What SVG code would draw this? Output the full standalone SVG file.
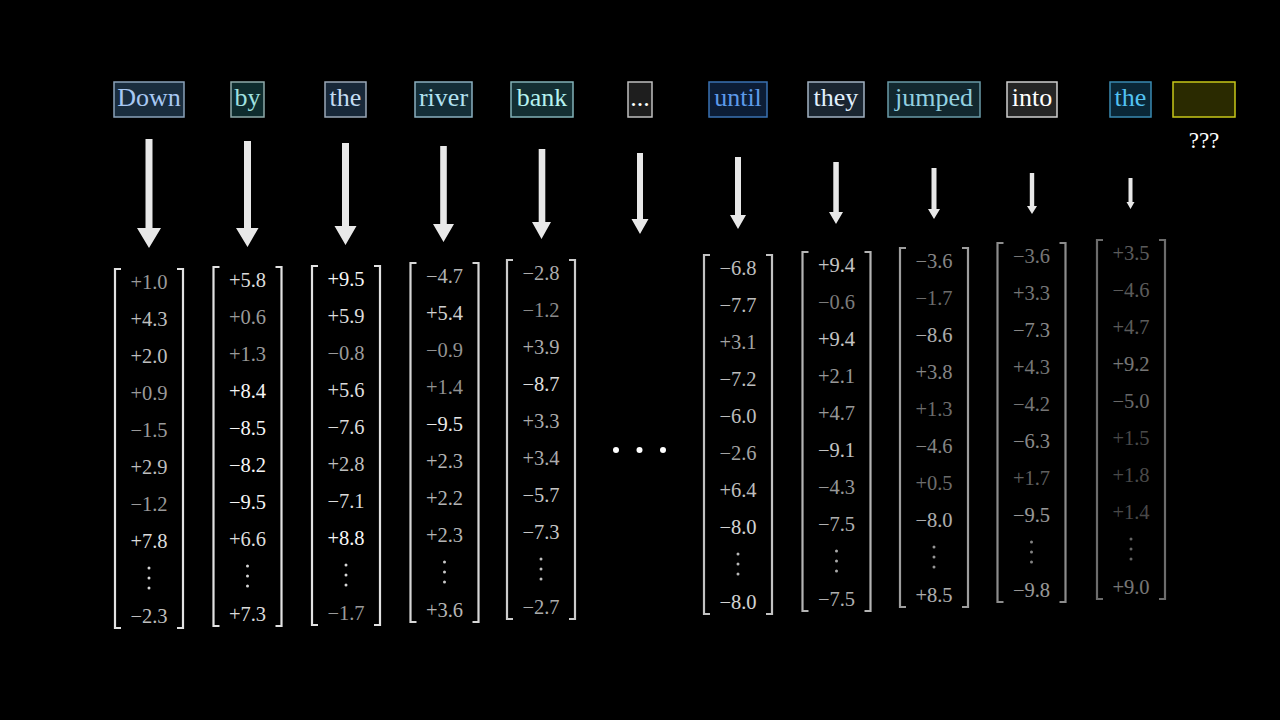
<svg xmlns="http://www.w3.org/2000/svg" width="1280" height="720" viewBox="0 0 1280 720">
<style>
.w{font-family:"Liberation Serif","Times New Roman",serif;font-size:26px;text-anchor:middle}
.n{font-family:"Liberation Serif","Times New Roman",serif;font-size:20.5px;text-anchor:middle}
.a{fill:#9a9a9a}.b{fill:#bebebe}.c{fill:#dcdcdc}.d{fill:#f6f6f6}
.br{fill:none;stroke:#e2e2e2;stroke-width:2.2}
.vd{fill:#d4d4d4}
.arr{fill:#e8e8e8}
</style>
<defs>
<g id="brk">
<path class="br" d="M-28 0H-34V359H-28M28 0H34V359H28"/>
<circle class="vd" cx="0" cy="299" r="1.5"/><circle class="vd" cx="0" cy="309" r="1.5"/><circle class="vd" cx="0" cy="319" r="1.5"/>
</g>
</defs>
<rect width="1280" height="720" fill="#000"/>

<g id="words">
<g id="w-down"><rect x="114" y="82" width="70" height="35" fill="#1a2d3e" stroke="#8aa2ba" stroke-width="1.5"/><text class="w" x="149" y="106" fill="#a8c8f2">Down</text></g>
<g id="w-by"><rect x="231" y="82" width="33" height="35" fill="#0e2c2e" stroke="#8eaaaa" stroke-width="1.5"/><text class="w" x="247.5" y="106" fill="#a0e2e0">by</text></g>
<g id="w-the1"><rect x="325" y="82" width="41" height="35" fill="#182839" stroke="#9aa8b8" stroke-width="1.5"/><text class="w" x="345.5" y="106" fill="#c4dcf2">the</text></g>
<g id="w-river"><rect x="415" y="82" width="57" height="35" fill="#142e38" stroke="#8ab0c0" stroke-width="1.5"/><text class="w" x="443.5" y="106" fill="#b2e2f2">river</text></g>
<g id="w-bank"><rect x="511" y="82" width="62" height="35" fill="#142f33" stroke="#82b2b8" stroke-width="1.5"/><text class="w" x="542" y="106" fill="#b6f2f0">bank</text></g>
<g id="w-dots"><rect x="628" y="82" width="24" height="35" fill="#1e1e1e" stroke="#c0c0c0" stroke-width="1.5"/><text class="w" x="640" y="106" fill="#ffffff">...</text></g>
<g id="w-until"><rect x="709" y="82" width="58" height="35" fill="#0c1d36" stroke="#3a72b2" stroke-width="1.5"/><text class="w" x="738" y="106" fill="#5c9aea">until</text></g>
<g id="w-they"><rect x="808" y="82" width="56" height="35" fill="#1a2530" stroke="#a2b2c2" stroke-width="1.5"/><text class="w" x="836" y="106" fill="#e2f0fc">they</text></g>
<g id="w-jumped"><rect x="888" y="82" width="92" height="35" fill="#12282f" stroke="#6a9aa8" stroke-width="1.5"/><text class="w" x="934" y="106" fill="#92d0e0">jumped</text></g>
<g id="w-into"><rect x="1007" y="82" width="50" height="35" fill="#252525" stroke="#d0d0d0" stroke-width="1.5"/><text class="w" x="1032" y="106" fill="#ffffff">into</text></g>
<g id="w-the2"><rect x="1110" y="82" width="41" height="35" fill="#0a2737" stroke="#3a8ab2" stroke-width="1.5"/><text class="w" x="1130.5" y="106" fill="#52c2f2">the</text></g>
<g id="w-next"><rect x="1173" y="82" width="62" height="35" fill="#2a2a00" stroke="#c8c818" stroke-width="1.5"/><text class="w" x="1204" y="148" fill="#ffffff" style="font-size:23px">???</text></g>
</g>

<g id="connectors">
<path class="arr" d="M145.5 139H152.5V228H161L149 248L137 228H145.5Z"/>
<path class="arr" d="M244 141H251V228H258.5L247.5 247L236 228H244Z"/>
<path class="arr" d="M342 143H349V226H356.5L345.5 245L334.5 226H342Z"/>
<path class="arr" d="M440.2 146H446.8V224H454L443.5 242L433 224H440.2Z"/>
<path class="arr" d="M538.7 149H545.3V222H551L541.5 239L532 222H538.7Z"/>
<path class="arr" d="M637 153H643V219H648.5L640 234L631.5 219H637Z"/>
<path class="arr" d="M735 157H741V215H746L738 229L730 215H735Z"/>
<path class="arr" d="M833.3 162H838.8V212H843L836 224L829 212H833.3Z"/>
<path class="arr" d="M931.5 168H936.5V209H940L934 219L928 209H931.5Z"/>
<path class="arr" d="M1029.8 173H1034.2V206H1037L1032 214L1027 206H1029.8Z"/>
<path class="arr" d="M1128.5 178H1132.5V202H1134.5L1130.5 209L1126.5 202H1128.5Z"/>
</g>

<g id="v-down" transform="translate(149,269)">
<use href="#brk"/>
<text class="n a" y="19.5">+1.0</text><text class="n b" y="56.5">+4.3</text><text class="n b" y="93.5">+2.0</text><text class="n a" y="130.5">+0.9</text><text class="n a" y="167.5">−1.5</text><text class="n b" y="204.5">+2.9</text><text class="n a" y="241.5">−1.2</text><text class="n c" y="278.5">+7.8</text><text class="n b" y="353.5">−2.3</text>
</g>
<g id="v-by" transform="translate(247.5,267)">
<use href="#brk"/>
<text class="n c" y="19.5">+5.8</text><text class="n a" y="56.5">+0.6</text><text class="n a" y="93.5">+1.3</text><text class="n d" y="130.5">+8.4</text><text class="n d" y="167.5">−8.5</text><text class="n d" y="204.5">−8.2</text><text class="n d" y="241.5">−9.5</text><text class="n c" y="278.5">+6.6</text><text class="n c" y="353.5">+7.3</text>
</g>
<g id="v-the1" transform="translate(346,266)">
<use href="#brk"/>
<text class="n d" y="19.5">+9.5</text><text class="n c" y="56.5">+5.9</text><text class="n a" y="93.5">−0.8</text><text class="n c" y="130.5">+5.6</text><text class="n c" y="167.5">−7.6</text><text class="n b" y="204.5">+2.8</text><text class="n c" y="241.5">−7.1</text><text class="n d" y="278.5">+8.8</text><text class="n a" y="353.5">−1.7</text>
</g>
<g id="v-river" transform="translate(444.5,263)" opacity="0.95">
<use href="#brk"/>
<text class="n b" y="19.5">−4.7</text><text class="n c" y="56.5">+5.4</text><text class="n a" y="93.5">−0.9</text><text class="n a" y="130.5">+1.4</text><text class="n d" y="167.5">−9.5</text><text class="n b" y="204.5">+2.3</text><text class="n b" y="241.5">+2.2</text><text class="n b" y="278.5">+2.3</text><text class="n b" y="353.5">+3.6</text>
</g>
<g id="v-bank" transform="translate(541,260)" opacity="0.9">
<use href="#brk"/>
<text class="n b" y="19.5">−2.8</text><text class="n a" y="56.5">−1.2</text><text class="n b" y="93.5">+3.9</text><text class="n d" y="130.5">−8.7</text><text class="n b" y="167.5">+3.3</text><text class="n b" y="204.5">+3.4</text><text class="n c" y="241.5">−5.7</text><text class="n c" y="278.5">−7.3</text><text class="n b" y="353.5">−2.7</text>
</g>
<g id="ellipsis">
<circle cx="616" cy="450" r="3" fill="#fff"/><circle cx="639.5" cy="450" r="3" fill="#fff"/><circle cx="663" cy="450" r="3" fill="#fff"/>
</g>
<g id="v-until" transform="translate(738,255)" opacity="0.86">
<use href="#brk"/>
<text class="n c" y="19.5">−6.8</text><text class="n c" y="56.5">−7.7</text><text class="n b" y="93.5">+3.1</text><text class="n c" y="130.5">−7.2</text><text class="n c" y="167.5">−6.0</text><text class="n b" y="204.5">−2.6</text><text class="n c" y="241.5">+6.4</text><text class="n d" y="278.5">−8.0</text><text class="n d" y="353.5">−8.0</text>
</g>
<g id="v-they" transform="translate(836.5,252)" opacity="0.8">
<use href="#brk"/>
<text class="n d" y="19.5">+9.4</text><text class="n a" y="56.5">−0.6</text><text class="n d" y="93.5">+9.4</text><text class="n b" y="130.5">+2.1</text><text class="n b" y="167.5">+4.7</text><text class="n d" y="204.5">−9.1</text><text class="n b" y="241.5">−4.3</text><text class="n c" y="278.5">−7.5</text><text class="n c" y="353.5">−7.5</text>
</g>
<g id="v-jumped" transform="translate(934,248)" opacity="0.7">
<use href="#brk"/>
<text class="n b" y="19.5">−3.6</text><text class="n a" y="56.5">−1.7</text><text class="n d" y="93.5">−8.6</text><text class="n b" y="130.5">+3.8</text><text class="n a" y="167.5">+1.3</text><text class="n b" y="204.5">−4.6</text><text class="n a" y="241.5">+0.5</text><text class="n d" y="278.5">−8.0</text><text class="n d" y="353.5">+8.5</text>
</g>
<g id="v-into" transform="translate(1031.5,243)" opacity="0.62">
<use href="#brk"/>
<text class="n b" y="19.5">−3.6</text><text class="n b" y="56.5">+3.3</text><text class="n c" y="93.5">−7.3</text><text class="n b" y="130.5">+4.3</text><text class="n b" y="167.5">−4.2</text><text class="n c" y="204.5">−6.3</text><text class="n a" y="241.5">+1.7</text><text class="n d" y="278.5">−9.5</text><text class="n d" y="353.5">−9.8</text>
</g>
<g id="v-the2" transform="translate(1131,240)" opacity="0.48">
<use href="#brk"/>
<text class="n b" y="19.5">+3.5</text><text class="n b" y="56.5">−4.6</text><text class="n b" y="93.5">+4.7</text><text class="n d" y="130.5">+9.2</text><text class="n c" y="167.5">−5.0</text><text class="n a" y="204.5">+1.5</text><text class="n a" y="241.5">+1.8</text><text class="n a" y="278.5">+1.4</text><text class="n d" y="353.5">+9.0</text>
</g>
</svg>
